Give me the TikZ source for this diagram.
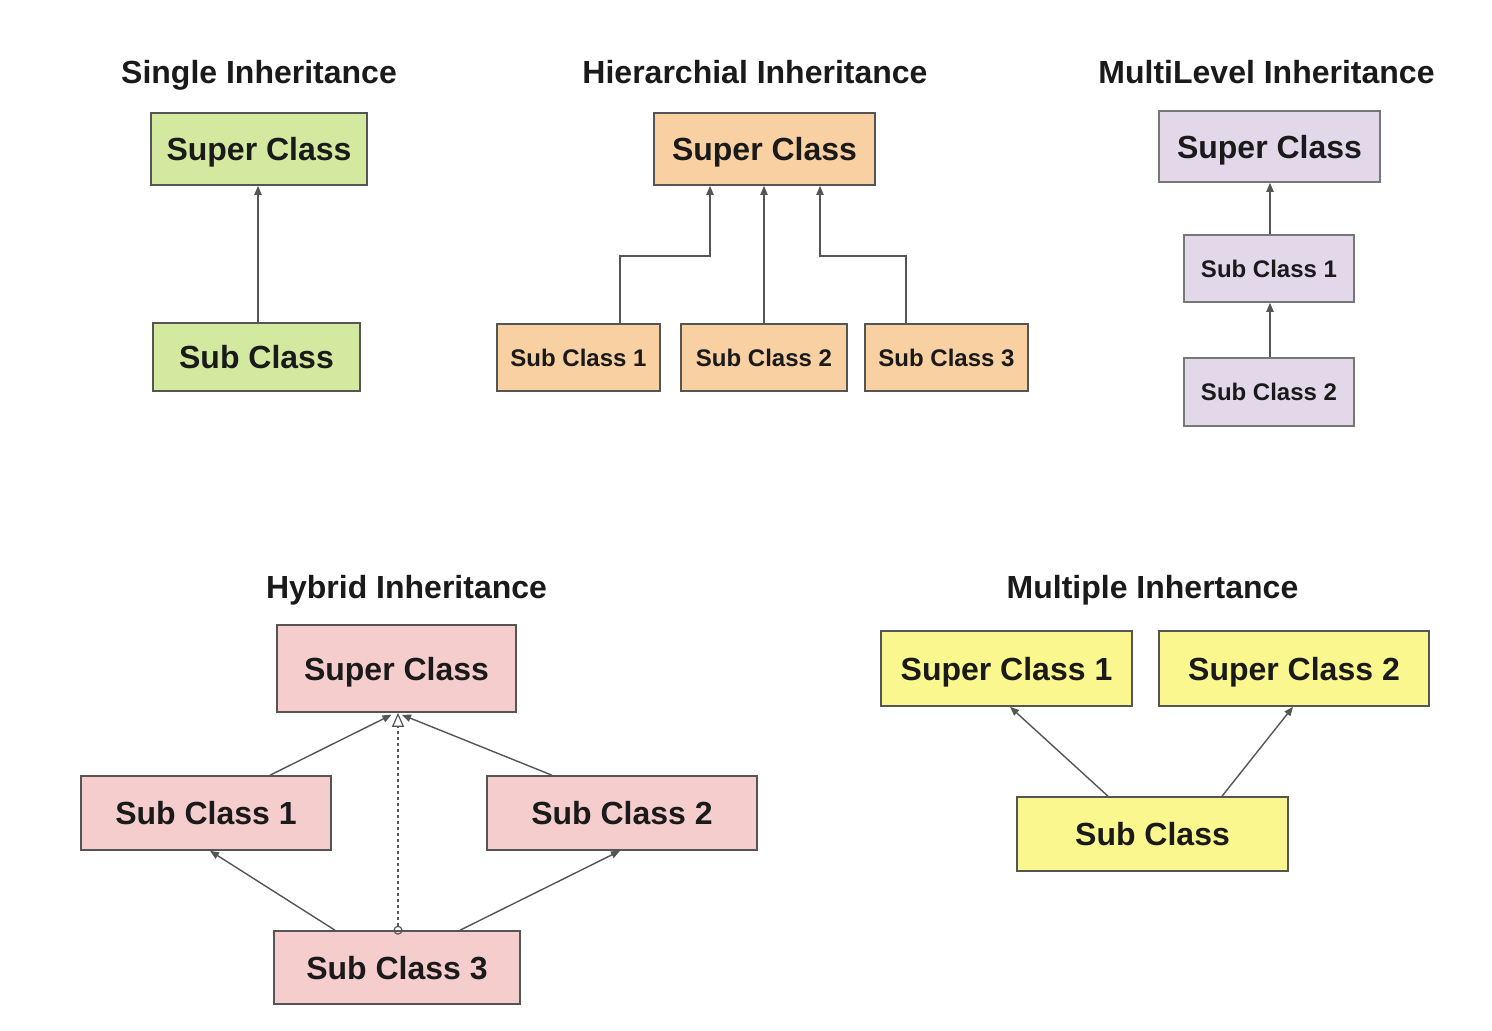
\documentclass[tikz,border=0pt]{standalone}
\usepackage{fontspec}
\setmainfont{Liberation Sans}
\usetikzlibrary{arrows.meta,calc}

\definecolor{fgreen}{HTML}{D3E9A0}
\definecolor{forange}{HTML}{F8D0A2}
\definecolor{fpurple}{HTML}{E2D8EA}
\definecolor{fpink}{HTML}{F5CDCD}
\definecolor{fyellow}{HTML}{F9F78E}
\definecolor{edge}{HTML}{555555}
\definecolor{ink}{HTML}{1A1A1A}

\tikzset{
  cls/.style={draw=edge, line width=0.8pt, inner sep=0pt,
    font=\bfseries\fontsize{16}{16}\selectfont, text=ink,
    text height=11.5pt, text depth=0pt},
  small/.style={font=\bfseries\fontsize{12}{12}\selectfont,
    text height=8.6pt},
  heading/.style={font=\bfseries\fontsize{16}{16}\selectfont, text=ink,
    anchor=base, inner sep=0pt},
  arr/.style={draw=edge, line width=0.7pt,
    -{Triangle[length=4.5pt,width=3.6pt]}},
}

\begin{document}
\begin{tikzpicture}[x=0.5pt, y=-0.5pt]
\useasboundingbox (0,0) rectangle (1492,1030);

% ---------- Single inheritance ----------
\node[heading] (t1) at (259,83) {Single Inheritance};
\node[cls, fill=fgreen, minimum width=108pt, minimum height=36pt] (ssup) at (259,149) {Super Class};
\node[cls, fill=fgreen, minimum width=103.5pt, minimum height=34pt] (ssub) at (256.5,357) {Sub Class};
\draw[arr] ($(ssub.north)+(1.5,0)$) -- ($(ssup.south)+(-1,0)$);

% ---------- Hierarchical inheritance ----------
\node[heading] (t2) at (755,83) {Hierarchial Inheritance};
\node[cls, fill=forange, minimum width=110.5pt, minimum height=36pt] (hsup) at (764.5,149) {Super Class};
\node[cls, small, fill=forange, minimum width=81.5pt, minimum height=33.5pt] (hsub1) at (578.5,357.5) {Sub Class 1};
\node[cls, small, fill=forange, minimum width=83pt, minimum height=33.5pt] (hsub2) at (764,357.5) {Sub Class 2};
\node[cls, small, fill=forange, minimum width=81.5pt, minimum height=33.5pt] (hsub3) at (946.5,357.5) {Sub Class 3};
\draw[arr] ($(hsub1.north)+(41.5,0)$) |- ($(hsup.south)+(-54.5,70)$) -- ($(hsup.south)+(-54.5,0)$);
\draw[arr] (hsub2.north) -- (hsub2.north |- hsup.south);
\draw[arr] ($(hsub3.north)+(-40.5,0)$) |- ($(hsup.south)+(55.5,70)$) -- ($(hsup.south)+(55.5,0)$);

% ---------- Multilevel inheritance ----------
\node[heading] (t3) at (1266.5,83) {MultiLevel Inheritance};
\node[cls, fill=fpurple, draw=edge!80, minimum width=110.5pt, minimum height=35.5pt] (msup) at (1269.5,146.5) {Super Class};
\node[cls, small, fill=fpurple, draw=edge!80, minimum width=85pt, minimum height=33.5pt] (msub1) at (1269,268.5) {Sub Class 1};
\node[cls, small, fill=fpurple, draw=edge!80, minimum width=85pt, minimum height=34pt] (msub2) at (1269,392) {Sub Class 2};
\draw[arr] ($(msub1.north)+(1,0)$) -- ($(msup.south)+(0.5,0)$);
\draw[arr] ($(msub2.north)+(1,0)$) -- ($(msub1.south)+(1,0)$);

% ---------- Hybrid inheritance ----------
\node[heading] (t4) at (406.5,598) {Hybrid Inheritance};
\node[cls, fill=fpink, minimum width=119.5pt, minimum height=43.5pt] (ysup) at (396.5,668.5) {Super Class};
\node[cls, fill=fpink, minimum width=125pt, minimum height=37pt] (ysub1) at (206,813) {Sub Class 1};
\node[cls, fill=fpink, minimum width=135pt, minimum height=37pt] (ysub2) at (622,813) {Sub Class 2};
\node[cls, fill=fpink, minimum width=123pt, minimum height=36.5pt] (ysub3) at (397,967.5) {Sub Class 3};
\draw[arr] ($(ysub1.north)+(64,0)$) -- ($(ysup.south)+(-5,2)$);
\draw[arr] ($(ysub2.north)+(-70,0)$) -- ($(ysup.south)+(5.5,2)$);
\draw[arr] ($(ysub3.north)+(-62,0)$) -- ($(ysub1.south)+(4,0)$);
\draw[arr] ($(ysub3.north)+(63,0)$) -- ($(ysub2.south)+(-2,0)$);
\draw[draw=edge, line width=0.7pt, dash pattern=on 1.5pt off 1.5pt,
  {Circle[open,length=4.5pt,width=4.5pt,line width=0.6pt,sep=-2.25pt]}-{Triangle[open,length=7pt,width=6pt,line width=0.6pt]}]
  ($(ysub3.north)+(1,0)$) -- ($(ysup.south)+(1.5,0)$);

% ---------- Multiple inheritance ----------
\node[heading] (t5) at (1152.5,598) {Multiple Inhertance};
\node[cls, fill=fyellow, minimum width=125.5pt, minimum height=37.5pt] (usup1) at (1006.5,668.5) {Super Class 1};
\node[cls, fill=fyellow, minimum width=135pt, minimum height=37.5pt] (usup2) at (1294,668.5) {Super Class 2};
\node[cls, fill=fyellow, minimum width=135.5pt, minimum height=37pt] (usub) at (1152.5,834) {Sub Class};
\draw[arr] ($(usub.north)+(-44.5,0)$) -- ($(usup1.south)+(3.5,0)$);
\draw[arr] ($(usub.north)+(69.5,0)$) -- ($(usup2.south)+(-1,0)$);

\end{tikzpicture}
\end{document}
